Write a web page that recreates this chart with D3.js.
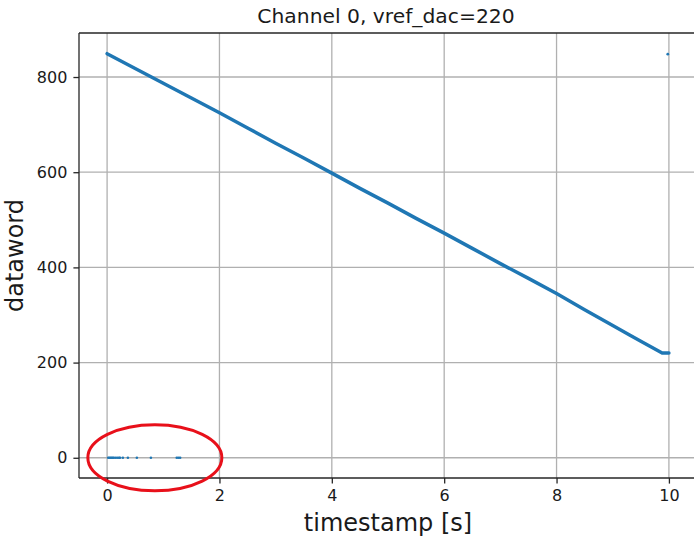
<!DOCTYPE html>
<html>
<head>
<meta charset="utf-8">
<script src="https://cdn.jsdelivr.net/npm/d3@7/dist/d3.min.js"></script>
<style>
  html, body { margin: 0; padding: 0; background: #ffffff; }
  svg { display: block; }
  text { font-family: "DejaVu Sans", sans-serif; fill: #1a1a1a; }
</style>
</head>
<body>
<svg id="chart" width="694" height="540"></svg>
<script>
// Ramp samples: timestamp [s] and dataword
const rampTime  = [0, 0.5, 1, 1.5, 2, 2.5, 3, 3.5, 4, 4.5, 5, 5.5, 6, 6.5, 7, 7.5, 8, 8.5, 9, 9.3, 9.5, 9.88, 10.0];
const rampValue = [849, 818, 787, 756, 725, 693, 661, 630, 598, 566, 535, 503, 472, 440, 408, 377, 345, 311, 278, 258, 245, 220, 220];

// Stray readings at dataword 0 near the start of the run
const zeroTime  = [0.02, 0.04, 0.06, 0.08, 0.10, 0.12, 0.15, 0.18, 0.21, 0.23, 0.28, 0.37, 0.53, 0.78, 1.24, 1.27, 1.30];
const zeroValue = [0, 0, 0, 0, 0, 0, 0, 0, 0, 0, 0, 0, 0, 0, 0, 0, 0];

// Single outlier at the end of the run
const outlierTime  = [9.98];
const outlierValue = [848];

// Axis ticks
const xTicks = [0, 2, 4, 6, 8, 10];
const yTicks = [0, 200, 400, 600, 800];

// Highlighted region (centre in data units)
const markCentre = [0.85, 0];

const titleText = "Channel 0, vref_dac=220";
const xLabel = "timestamp [s]";
const yLabel = "dataword";

const blue = "#1f77b4";
const svg = d3.select("#chart");

const plotLeft = 79, plotRight = 697, plotTop = 33, plotBottom = 478;
const x = d3.scaleLinear().domain([-0.5, 10.5]).range([plotLeft, plotRight]);
const y = d3.scaleLinear().domain([-42.5, 892.5]).range([plotBottom, plotTop]);

// grid
const grid = svg.append("g");
grid.selectAll("line.vx").data(xTicks).join("line")
  .attr("x1", d => x(d)).attr("x2", d => x(d))
  .attr("y1", plotTop).attr("y2", plotBottom)
  .attr("stroke", "#b0b0b0").attr("stroke-width", 1.3);
grid.selectAll("line.hy").data(yTicks).join("line")
  .attr("x1", plotLeft).attr("x2", plotRight)
  .attr("y1", d => y(d)).attr("y2", d => y(d))
  .attr("stroke", "#b0b0b0").attr("stroke-width", 1.3);

// ramp
const ramp = rampTime.map((t, i) => [t, rampValue[i]]);
svg.append("path")
  .datum(ramp)
  .attr("fill", "none")
  .attr("stroke", blue)
  .attr("stroke-width", 3.5)
  .attr("stroke-linecap", "round")
  .attr("stroke-linejoin", "round")
  .attr("d", d3.line().x(d => x(d[0])).y(d => y(d[1])));

// zero readings
svg.append("g").selectAll("circle")
  .data(zeroTime.map((t, i) => [t, zeroValue[i]]))
  .join("circle")
  .attr("cx", d => x(d[0])).attr("cy", d => y(d[1]))
  .attr("r", 1.3).attr("fill", blue);

// outlier
svg.append("g").selectAll("circle")
  .data(outlierTime.map((t, i) => [t, outlierValue[i]]))
  .join("circle")
  .attr("cx", d => x(d[0])).attr("cy", d => y(d[1]))
  .attr("r", 1.4).attr("fill", blue);

// axes
const xAxis = svg.append("g")
  .attr("transform", `translate(0,${plotBottom})`)
  .call(d3.axisBottom(x).tickValues(xTicks).tickFormat(d3.format("d")).tickSize(5.6).tickPadding(6));
const yAxis = svg.append("g")
  .attr("transform", `translate(${plotLeft},0)`)
  .call(d3.axisLeft(y).tickValues(yTicks).tickFormat(d3.format("d")).tickSize(5.6).tickPadding(6));

[xAxis, yAxis].forEach(g => {
  g.select(".domain").remove();
  g.selectAll(".tick line").attr("stroke", "#262626").attr("stroke-width", 1.3);
  g.selectAll(".tick text")
    .style("font-family", "'DejaVu Sans', sans-serif")
    .style("font-size", "16px")
    .attr("fill", "#1a1a1a");
});

// spines (left, bottom, top; right lies just past the page edge)
const spines = svg.append("g").attr("stroke", "#262626").attr("stroke-width", 1.3);
spines.append("line").attr("x1", plotLeft).attr("x2", plotLeft).attr("y1", plotTop).attr("y2", plotBottom);
spines.append("line").attr("x1", plotLeft).attr("x2", plotRight).attr("y1", plotBottom).attr("y2", plotBottom);
spines.append("line").attr("x1", plotLeft).attr("x2", plotRight).attr("y1", plotTop).attr("y2", plotTop);
spines.append("line").attr("x1", plotRight).attr("x2", plotRight).attr("y1", plotTop).attr("y2", plotBottom);

// highlight ellipse
svg.append("ellipse")
  .attr("cx", x(markCentre[0])).attr("cy", y(markCentre[1]))
  .attr("rx", 67).attr("ry", 33)
  .attr("fill", "none").attr("stroke", "#e8101a").attr("stroke-width", 3);

// labels
svg.append("text")
  .attr("x", (plotLeft + plotRight) / 2 - 2).attr("y", 23)
  .attr("text-anchor", "middle")
  .style("font-size", "20.3px")
  .text(titleText);

svg.append("text")
  .attr("x", (plotLeft + plotRight) / 2).attr("y", 531)
  .attr("text-anchor", "middle")
  .style("font-size", "24px")
  .text(xLabel);

svg.append("text")
  .attr("transform", `translate(23,${(plotTop + plotBottom) / 2}) rotate(-90)`)
  .attr("text-anchor", "middle")
  .style("font-size", "24px")
  .text(yLabel);
</script>
</body>
</html>
